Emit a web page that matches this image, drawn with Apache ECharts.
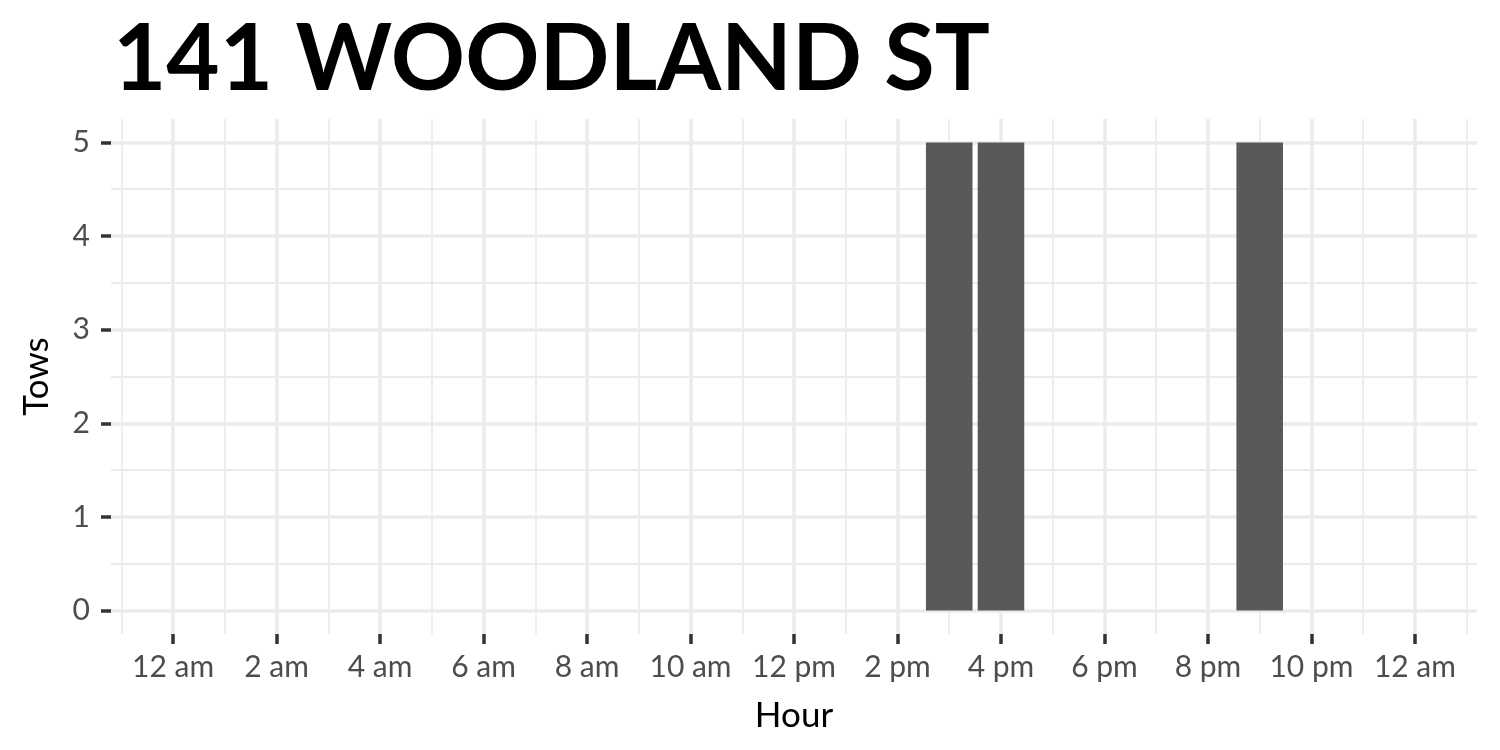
<!DOCTYPE html>
<html>
<head>
<meta charset="utf-8">
<script src="https://cdn.jsdelivr.net/npm/echarts@6/dist/echarts.min.js"></script>
<style>
  html, body { margin: 0; padding: 0; background: #ffffff; }
  #chart { width: 1500px; height: 750px; }
</style>
</head>
<body>
<div id="chart"></div>
<script>
// ---- data ----
const titleText = '141 WOODLAND ST';
const hours = [15, 16, 21];
const tows = [5, 5, 5];
const xMajorTicks = [0, 2, 4, 6, 8, 10, 12, 14, 16, 18, 20, 22, 24];
const xTickLabels = ['12 am', '2 am', '4 am', '6 am', '8 am', '10 am', '12 pm', '2 pm', '4 pm', '6 pm', '8 pm', '10 pm', '12 am'];
const xMinorTicks = [-1, 1, 3, 5, 7, 9, 11, 13, 15, 17, 19, 21, 23, 25];
const yMajorTicks = [0, 1, 2, 3, 4, 5];
const yMinorTicks = [0.5, 1.5, 2.5, 3.5, 4.5];

const FONT = 'Lato, "Noto Sans", sans-serif';
const GRID_COLOR = '#EBEBEB';
const TICK_COLOR = '#333333';
const LABEL_COLOR = '#4D4D4D';

// panel geometry (ggplot-like expansion of 0..24 by 5%)
const GRID_LEFT = 111, GRID_RIGHT = 23;
const X_MIN = -1.2, X_MAX = 25.2;
const axisLen = 1500 - GRID_LEFT - GRID_RIGHT;
const barPx = 0.9 * axisLen / (X_MAX - X_MIN);

const chart = echarts.init(document.getElementById('chart'), null, { renderer: 'canvas' });

const labelMap = {};
xMajorTicks.forEach((v, i) => { labelMap[v] = xTickLabels[i]; });

const option = {
  animation: false,
  backgroundColor: '#ffffff',
  title: {
    text: titleText,
    left: 113,
    top: 14,
    padding: 0,
    textStyle: { fontFamily: FONT, fontWeight: 'bold', fontSize: 92, color: '#000000' }
  },
  grid: { left: GRID_LEFT, right: GRID_RIGHT, top: 119, bottom: 116, containLabel: false, outerBoundsMode: 'none' },
  xAxis: [
    {
      type: 'value', min: X_MIN, max: X_MAX, position: 'bottom',
      name: 'Hour', nameLocation: 'middle', nameGap: 64, nameMoveOverlap: false,
      nameTextStyle: { fontFamily: FONT, fontSize: 35, color: '#000000' },
      axisLine: { show: false, onZero: false },
      axisTick: { show: true, length: 10, customValues: xMajorTicks, lineStyle: { color: TICK_COLOR, width: 3.5 } },
      axisLabel: {
        customValues: xMajorTicks, margin: 18,
        fontFamily: FONT, fontSize: 30, color: LABEL_COLOR,
        formatter: v => labelMap[v] !== undefined ? labelMap[v] : ''
      },
      splitLine: { show: true, lineStyle: { color: GRID_COLOR, width: 3.5 } }
    },
    {
      type: 'value', min: X_MIN, max: X_MAX, position: 'bottom',
      axisLine: { show: false, onZero: false },
      axisTick: { show: false, customValues: xMinorTicks },
      axisLabel: { show: false, customValues: xMinorTicks },
      splitLine: { show: true, lineStyle: { color: GRID_COLOR, width: 1.8 } }
    }
  ],
  yAxis: [
    {
      type: 'value', min: -0.25, max: 5.25, position: 'left',
      name: 'Tows', nameLocation: 'middle', nameGap: 57, nameRotate: 90, nameMoveOverlap: false,
      nameTextStyle: { fontFamily: FONT, fontSize: 35, color: '#000000' },
      axisLine: { show: false, onZero: false },
      axisTick: { show: true, length: 10, customValues: yMajorTicks, lineStyle: { color: TICK_COLOR, width: 3.5 } },
      axisLabel: { customValues: yMajorTicks, margin: 21, fontFamily: FONT, fontSize: 30, color: LABEL_COLOR },
      splitLine: { show: true, lineStyle: { color: GRID_COLOR, width: 3.5 } }
    },
    {
      type: 'value', min: -0.25, max: 5.25, position: 'left',
      axisLine: { show: false, onZero: false },
      axisTick: { show: false, customValues: yMinorTicks },
      axisLabel: { show: false, customValues: yMinorTicks },
      splitLine: { show: true, lineStyle: { color: GRID_COLOR, width: 1.8 } }
    }
  ],
  series: [
    {
      type: 'bar',
      xAxisIndex: 0, yAxisIndex: 0,
      data: hours.map((h, i) => [h, tows[i]]),
      barWidth: barPx,
      itemStyle: { color: '#595959' },
      z: 5
    }
  ]
};

chart.setOption(option);
</script>
</body>
</html>
